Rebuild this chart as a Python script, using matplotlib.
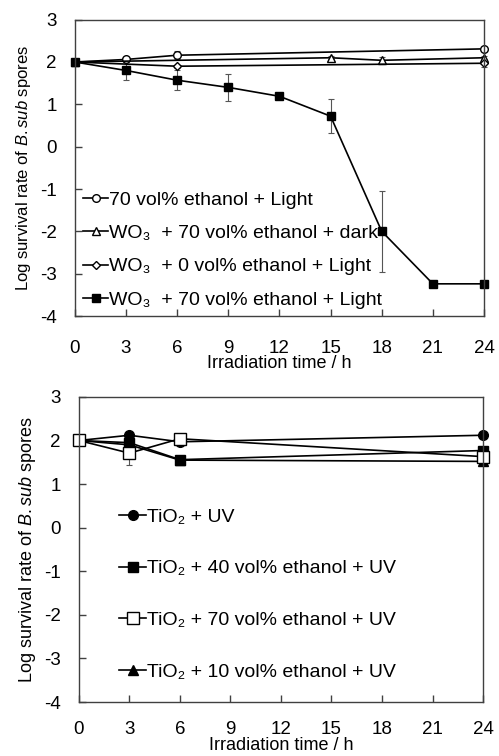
import numpy as np
import matplotlib
matplotlib.use('Agg')
from matplotlib import pyplot as plt
from matplotlib.lines import Line2D

plt.rcParams['font.family'] = ['Liberation Sans', 'DejaVu Sans']
plt.rcParams['mathtext.fontset'] = 'custom'
plt.rcParams['mathtext.rm'] = 'Liberation Sans'
plt.rcParams['mathtext.it'] = 'Liberation Sans:italic'
plt.rcParams['axes.unicode_minus'] = False

# top panel: WO3
t_circ = [0, 3, 6, 24]
y_circ = [2.0, 2.06, 2.16, 2.31]
e_circ = [0, 0.03, 0.1, 0.04]
t_tri = [0, 15, 18, 24]
y_tri = [2.0, 2.1, 2.04, 2.1]
e_tri = [0, 0.04, 0.08, 0.05]
t_dia = [0, 6, 24]
y_dia = [2.0, 1.9, 1.97]
e_dia = [0, 0.04, 0.1]
t_sq = [0, 3, 6, 9, 12, 15, 18, 21, 24]
y_sq = [2.0, 1.8, 1.57, 1.4, 1.19, 0.72, -2.0, -3.24, -3.24]
e_sq = [0, 0.22, 0.24, 0.31, 0.03, 0.4, 0.96, 0.06, 0.03]
top_labels = ['70 vol% ethanol + Light',
              'WO\u2083  + 70 vol% ethanol + dark',
              'WO\u2083  + 0 vol% ethanol + Light',
              'WO\u2083  + 70 vol% ethanol + Light']

# bottom panel: TiO2
t_b = [0, 3, 6, 24]
y_uv = [2.0, 2.12, 1.97, 2.12]
y_40 = [2.0, 1.95, 1.56, 1.77]
e_40 = [0, 0.05, 0.05, 0.05]
y_70 = [2.0, 1.71, 2.04, 1.63]
e_70 = [0, 0.27, 0.04, 0.05]
y_10 = [2.0, 1.9, 1.55, 1.52]
bot_labels = ['TiO\u2082 + UV',
              'TiO\u2082 + 40 vol% ethanol + UV',
              'TiO\u2082 + 70 vol% ethanol + UV',
              'TiO\u2082 + 10 vol% ethanol + UV']

xticks = [0, 3, 6, 9, 12, 15, 18, 21, 24]
ylabel = 'Log survival rate of $\\it{B.sub}$ spores'

fig = plt.figure(figsize=(4.99, 7.56), dpi=100)
ax1 = fig.add_axes([0.150, 0.582, 0.820, 0.392])
ax2 = fig.add_axes([0.158, 0.0714, 0.810, 0.4036])

lw = 1.2
ebkw = dict(elinewidth=0.8, capsize=2.5, capthick=0.8, ecolor='#555555')

st1 = dict(marker='o', ms=5.5, mfc='white', mec='black', color='black', lw=lw)
st2 = dict(marker='^', ms=5.5, mfc='white', mec='black', color='black', lw=lw)
st3 = dict(marker='D', ms=4.5, mfc='white', mec='black', color='black', lw=lw)
st4 = dict(marker='s', ms=6, mfc='black', mec='black', color='black', lw=lw)
ax1.errorbar(t_circ, y_circ, yerr=e_circ, clip_on=False, **st1, **ebkw)
ax1.errorbar(t_tri, y_tri, yerr=e_tri, clip_on=False, **st2, **ebkw)
ax1.errorbar(t_dia, y_dia, yerr=e_dia, clip_on=False, **st3, **ebkw)
ax1.errorbar(t_sq, y_sq, yerr=e_sq, clip_on=False, **st4, **ebkw)

sb1 = dict(marker='o', ms=7, color='black', lw=lw)
sb2 = dict(marker='s', ms=7, mfc='black', mec='black', color='black', lw=lw)
sb3 = dict(marker='s', ms=8, mfc='white', mec='black', color='black', lw=lw)
sb4 = dict(marker='^', ms=7, color='black', lw=lw)
ax2.plot(t_b, y_uv, clip_on=False, **sb1)
ax2.errorbar(t_b, y_40, yerr=e_40, clip_on=False, **sb2, **ebkw)
ax2.errorbar(t_b, y_70, yerr=e_70, clip_on=False, **sb3, **ebkw)
ax2.plot(t_b, y_10, clip_on=False, **sb4)

for ax in (ax1, ax2):
    ax.set_xlim(0, 24)
    ax.set_ylim(-4, 3)
    ax.set_xticks(xticks)
    ax.set_yticks(range(-4, 4))
    ax.tick_params(direction='in', length=5, width=1, labelsize=13.5, color='#404040')
    ax.tick_params(axis='y', pad=13)
    for s in ax.spines.values():
        s.set_color('#404040')
        s.set_linewidth(1.0)

ax1.tick_params(axis='x', pad=17)
ax2.tick_params(axis='x', pad=13.5)
ax1.set_xlabel('Irradiation time / h', fontsize=13, labelpad=-1)
ax2.set_xlabel('Irradiation time / h', fontsize=13, labelpad=-0.5)
ax1.set_ylabel(ylabel, fontsize=12, labelpad=5)
ax2.set_ylabel(ylabel, fontsize=13, labelpad=4)

h1 = [Line2D([], [], **s) for s in (st1, st2, st3, st4)]
h2 = [Line2D([], [], **s) for s in (sb1, sb2, sb3, sb4)]
ax1.legend(h1, top_labels, loc='lower left', bbox_to_anchor=(0.02, 0.025),
           frameon=False, fontsize=14, handlelength=1.3, handletextpad=0.05,
           labelspacing=0.8, borderpad=0, borderaxespad=0)
ax2.legend(h2, bot_labels, loc='lower left', bbox_to_anchor=(0.1, 0.07),
           frameon=False, fontsize=14, handlelength=1.4, handletextpad=0.05,
           labelspacing=1.75, borderpad=0, borderaxespad=0)

plt.savefig('out.png', dpi=100)
